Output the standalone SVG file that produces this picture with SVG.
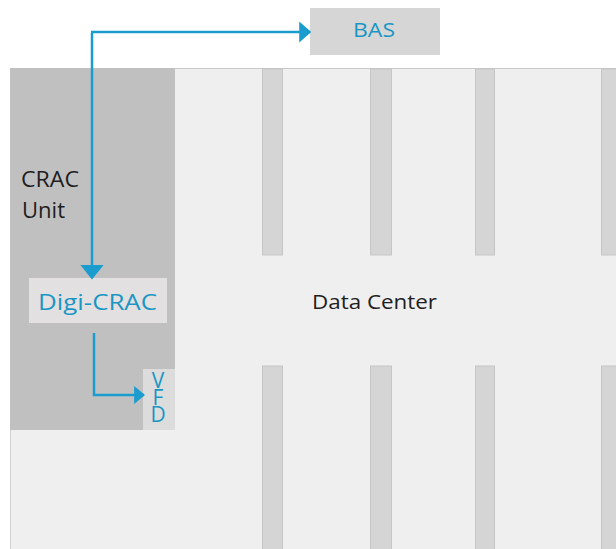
<svg xmlns="http://www.w3.org/2000/svg" width="616" height="549" viewBox="0 0 616 549">
<style>
.slot{fill:#d5d5d5;stroke:#c6c6c6;stroke-width:1}
.lbl{font-family:"Open Sans","Liberation Sans",sans-serif}
.blue{fill:#1a96c4}
.dark{fill:#1e1e1e}
.conn{fill:none;stroke:#1a9ccf;stroke-width:2.5}
</style>
<defs>
<marker id="ahA" viewBox="0 0 10 10" refX="9" refY="5" markerWidth="12" markerHeight="21" markerUnits="userSpaceOnUse" preserveAspectRatio="none" orient="auto">
<path d="M0,0 L10,5 L0,10 Z" fill="#1a9ccf"/>
</marker>
<marker id="ahB" viewBox="0 0 10 10" refX="9" refY="5" markerWidth="15" markerHeight="24" markerUnits="userSpaceOnUse" preserveAspectRatio="none" orient="auto">
<path d="M0,0 L10,5 L0,10 Z" fill="#1a9ccf"/>
</marker>
<marker id="ahC" viewBox="0 0 10 10" refX="9" refY="5" markerWidth="11" markerHeight="18" markerUnits="userSpaceOnUse" preserveAspectRatio="none" orient="auto">
<path d="M0,0 L10,5 L0,10 Z" fill="#1a9ccf"/>
</marker>
</defs>
<rect width="616" height="549" fill="#ffffff"/>
<g id="datacenter">
<rect x="10" y="68" width="606" height="481" fill="#efefef"/>
<line x1="10" y1="68.5" x2="616" y2="68.5" stroke="#c8c8c8" stroke-width="1"/>
<line x1="10.5" y1="68" x2="10.5" y2="549" stroke="#d0d0d0" stroke-width="1"/>
<rect class="slot" x="262.5" y="69" width="20" height="186"/>
<rect class="slot" x="370.5" y="69" width="21" height="186"/>
<rect class="slot" x="475.5" y="69" width="19" height="186"/>
<rect class="slot" x="601.5" y="69" width="20" height="186"/>
<rect class="slot" x="262.5" y="366" width="20" height="190"/>
<rect class="slot" x="370.5" y="366" width="21" height="190"/>
<rect class="slot" x="475.5" y="366" width="19" height="190"/>
<rect class="slot" x="601.5" y="366" width="20" height="190"/>
<text class="lbl dark" x="312" y="309" font-size="20" textLength="125" lengthAdjust="spacingAndGlyphs">Data Center</text>
</g>
<g id="crac">
<rect x="10" y="68" width="165" height="362" fill="#c0c0c0"/>
<text class="lbl dark" x="21" y="187" font-size="21" textLength="58" lengthAdjust="spacingAndGlyphs">CRAC</text>
<text class="lbl dark" x="22" y="218" font-size="21" textLength="43" lengthAdjust="spacingAndGlyphs">Unit</text>
</g>
<g id="bas">
<rect x="310" y="8" width="130" height="47" fill="#d6d6d6"/>
<text class="lbl blue" x="353" y="37" font-size="20" textLength="42" lengthAdjust="spacingAndGlyphs">BAS</text>
</g>
<g id="digicrac">
<rect x="29" y="278" width="138" height="45" fill="#e2e0e0"/>
<text class="lbl blue" x="38" y="310" font-size="22" textLength="119" lengthAdjust="spacingAndGlyphs">Digi-CRAC</text>
</g>
<g id="vfd">
<rect x="143" y="369" width="32" height="61" fill="#dcdcdc"/>
<text class="lbl blue" x="158" y="366" font-size="21" writing-mode="vertical-rl" text-orientation="upright" letter-spacing="-11" style="writing-mode:vertical-rl;text-orientation:upright">VFD</text>
</g>
<g id="connectors">
<path class="conn" d="M92,33 V278" marker-end="url(#ahB)"/>
<path class="conn" d="M91,32 H310" marker-end="url(#ahA)"/>
<path class="conn" d="M94,333 V395 H144" marker-end="url(#ahC)"/>
</g>
</svg>
